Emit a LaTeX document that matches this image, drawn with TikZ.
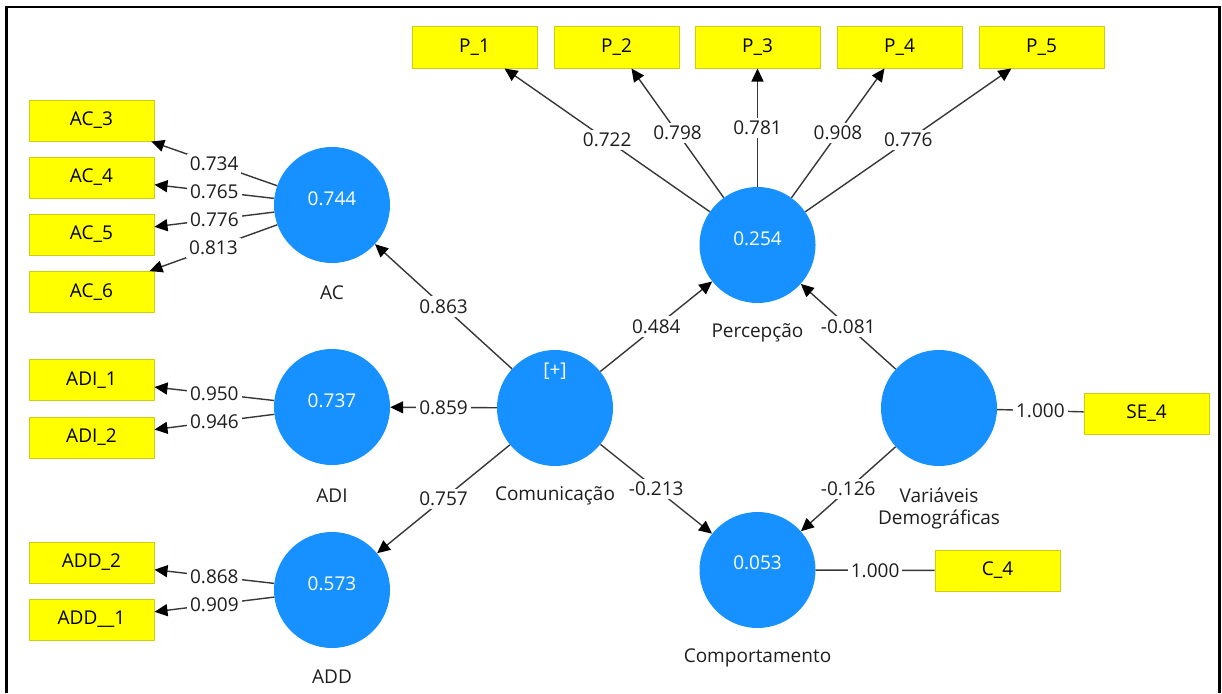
\documentclass[tikz,border=0pt]{standalone}
\usepackage{fontspec}
\setmainfont{Open Sans}
\usetikzlibrary{arrows.meta}

\definecolor{lvblue}{RGB}{22,145,255}
\definecolor{mvfill}{RGB}{255,255,0}
\definecolor{mvline}{RGB}{205,205,20}
\definecolor{edgegray}{RGB}{55,55,55}
\definecolor{txtdark}{RGB}{30,30,30}

\tikzset{
  plsfont/.style={font=\fontsize{19}{23}\selectfont},
  latent/.style={circle, fill=lvblue, minimum size=116pt, inner sep=0pt, draw=none},
  indicator/.style={rectangle, fill=mvfill, draw=mvline, line width=1pt,
    minimum width=125pt, minimum height=41pt, inner sep=0pt, plsfont, text=black},
  rsq/.style={plsfont, text=white, inner sep=0pt},
  lvname/.style={plsfont, text=txtdark, inner sep=0pt, align=center},
  edge/.style={draw=edgegray, line width=1.4pt},
  path/.style={edge, -{Triangle[length=13pt,width=12pt,fill=black,color=black]}},
  lbl/.style={plsfont, fill=white, text=txtdark, inner sep=3pt, pos=0.5}
}

\begin{document}
\begin{tikzpicture}[x=1pt, y=-1pt]
\useasboundingbox (0,0) rectangle (1222,693);

% outer frame (open at the bottom)
\draw[line width=2.6pt] (6.5,693) -- (6.5,7) -- (1219.5,7) -- (1219.5,693);

% latent variables
\node[latent] (AC)   at (332,205) {};
\node[latent] (ADI)  at (332,407) {};
\node[latent] (ADD)  at (332,590) {};
\node[latent] (COM)  at (555,408) {};
\node[latent] (PER)  at (757.5,245) {};
\node[latent] (VAR)  at (939,408) {};
\node[latent] (CMP)  at (757.5,570) {};

% R-squared values inside the constructs
\node[rsq] (rAC)  at (332,199) {0.744};
\node[rsq] (rADI) at (332,401) {0.737};
\node[rsq] (rADD) at (332,584) {0.573};
\node[rsq] (rPER) at (757.5,239) {0.254};
\node[rsq] (rCMP) at (757.5,563) {0.053};
\node[rsq] (rCOM) at (555,371) {[+]};

% construct names
\node[lvname] (nAC)  at (332,293) {AC};
\node[lvname] (nADI) at (332,496) {ADI};
\node[lvname] (nADD) at (332,677) {ADD};
\node[lvname] (nCOM) at (555,496) {Comunicação};
\node[lvname] (nPER) at (757.5,333) {Percepção};
\node[lvname] (nVAR) at (939,508) {Variáveis\\[-1pt]Demográficas};
\node[lvname] (nCMP) at (757.5,658) {Comportamento};

% indicators
\node[indicator] (AC3)  at (91.5,120.5) {AC\_3};
\node[indicator] (AC4)  at (91.5,177.5) {AC\_4};
\node[indicator] (AC5)  at (91.5,234.5) {AC\_5};
\node[indicator] (AC6)  at (91.5,292)   {AC\_6};
\node[indicator] (ADI1) at (91.5,380)   {ADI\_1};
\node[indicator] (ADI2) at (91.5,437.5) {ADI\_2};
\node[indicator] (ADD2) at (91.5,562.5) {ADD\_2};
\node[indicator] (ADD1) at (91.5,619.5) {ADD\_\_1};
\node[indicator] (P1)   at (474.5,47.5) {P\_1};
\node[indicator] (P2)   at (616.5,47.5) {P\_2};
\node[indicator] (P3)   at (757.5,47.5) {P\_3};
\node[indicator] (P4)   at (899.5,47.5) {P\_4};
\node[indicator] (P5)   at (1041.5,47.5) {P\_5};
\node[indicator] (SE4)  at (1146.5,413.5) {SE\_4};
\node[indicator] (C4)   at (997.5,570.5) {C\_4};

% outer loadings
\draw[path] (AC) -- node[lbl]{0.734} (AC3);
\draw[path] (AC) -- node[lbl]{0.765} (AC4);
\draw[path] (AC) -- node[lbl]{0.776} (AC5);
\draw[path] (AC) -- node[lbl]{0.813} (AC6);
\draw[path] (ADI) -- node[lbl]{0.950} (ADI1);
\draw[path] (ADI) -- node[lbl]{0.946} (ADI2);
\draw[path] (ADD) -- node[lbl]{0.868} (ADD2);
\draw[path] (ADD) -- node[lbl]{0.909} (ADD1);
\draw[path] (PER) -- node[lbl]{0.722} (P1);
\draw[path] (PER) -- node[lbl]{0.798} (P2);
\draw[path] (PER) -- node[lbl]{0.781} (P3);
\draw[path] (PER) -- node[lbl]{0.908} (P4);
\draw[path] (PER) -- node[lbl]{0.776} (P5);
\draw[edge] (VAR) -- node[lbl]{1.000} (SE4);
\draw[edge] (CMP) -- node[lbl]{1.000} (C4);

% structural paths
\draw[path] (COM) -- node[lbl]{0.863} (AC);
\draw[path] (COM) -- node[lbl]{0.859} (ADI);
\draw[path] (COM) -- node[lbl]{0.757} (ADD);
\draw[path] (COM) -- node[lbl]{0.484} (PER);
\draw[path] (COM) -- node[lbl]{-0.213} (CMP);
\draw[path] (VAR) -- node[lbl]{-0.081} (PER);
\draw[path] (VAR) -- node[lbl]{-0.126} (CMP);
\end{tikzpicture}
\end{document}
